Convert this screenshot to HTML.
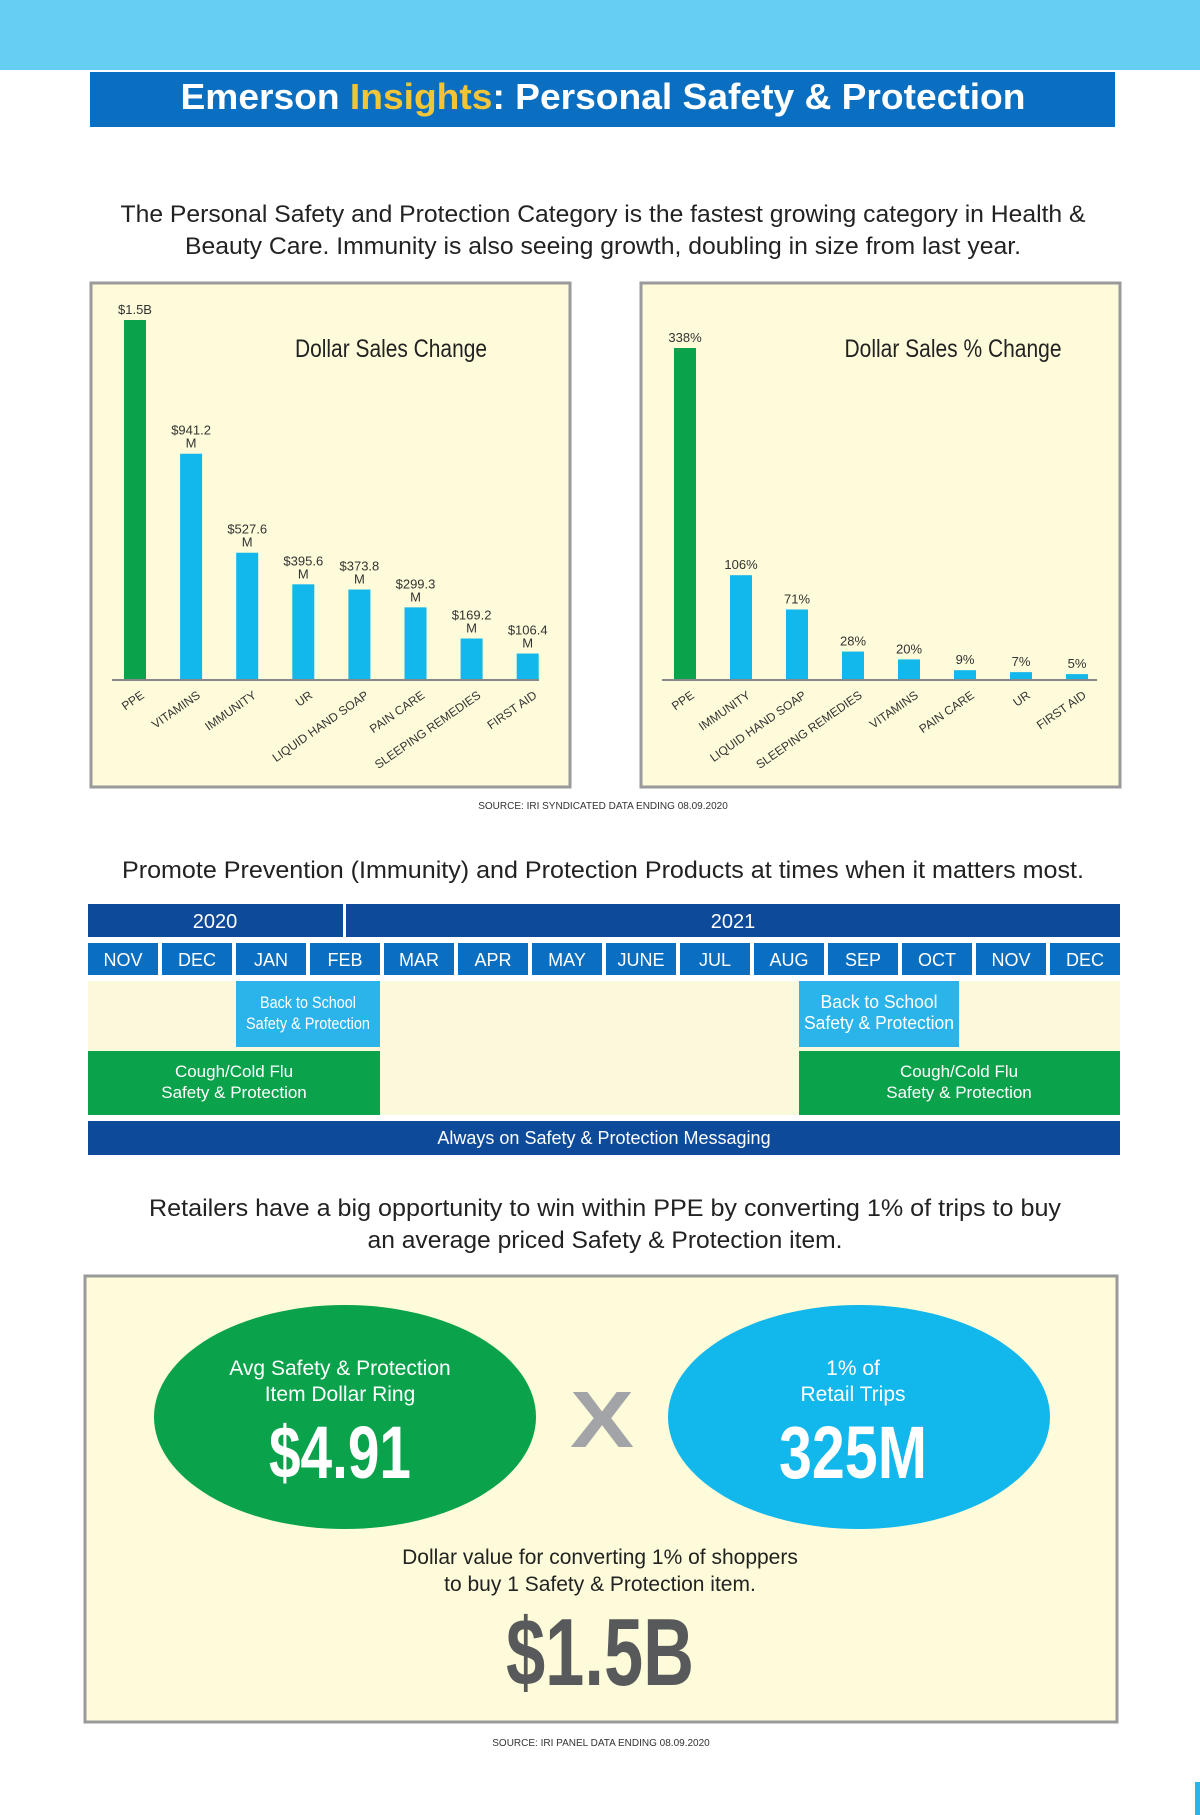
<!DOCTYPE html>
<html><head><meta charset="utf-8">
<style>
html,body{margin:0;padding:0;background:#fff;}
svg{display:block;}
text{font-family:"Liberation Sans",sans-serif;}
.n{font-family:"Liberation Sans Narrow","Liberation Sans",sans-serif;}
</style></head>
<body>
<svg id="page" width="1200" height="1815" viewBox="0 0 1200 1815" xmlns="http://www.w3.org/2000/svg">
  <rect x="0" y="0" width="1200" height="70" fill="#66cdf3"/>
  <g>
    <rect x="90" y="72" width="1025" height="55" fill="#0b6fc1"/>
    <text x="603" y="109" text-anchor="middle" font-size="36" font-weight="bold" fill="#fff" textLength="845" lengthAdjust="spacingAndGlyphs">Emerson <tspan fill="#f3c536">Insights</tspan>:  Personal Safety &amp; Protection</text>
  </g>
  <g font-size="24" fill="#222" text-anchor="middle">
    <text x="603" y="222" textLength="965" lengthAdjust="spacingAndGlyphs">The Personal Safety and Protection Category is the fastest growing category in Health &amp;</text>
    <text x="603" y="254" textLength="836" lengthAdjust="spacingAndGlyphs">Beauty Care. Immunity is also seeing growth, doubling in size from last year.</text>
  </g>

  <rect x="91" y="283" width="479" height="504" fill="#fdfbd9" stroke="#9a9a9a" stroke-width="3"/>
  <rect x="641" y="283" width="479" height="504" fill="#fdfbd9" stroke="#9a9a9a" stroke-width="3"/>
  <text class="n" x="391" y="357" text-anchor="middle" font-size="25" fill="#222" textLength="192" lengthAdjust="spacingAndGlyphs">Dollar Sales Change</text>
  <text class="n" x="953" y="357" text-anchor="middle" font-size="25" fill="#222" textLength="217" lengthAdjust="spacingAndGlyphs">Dollar Sales % Change</text>
  <g id="chart1"></g>
  <g id="chart2"></g>
  <text class="n" x="603" y="809" text-anchor="middle" font-size="10" fill="#333">SOURCE:  IRI SYNDICATED DATA ENDING 08.09.2020</text>

  <text x="603" y="878" text-anchor="middle" font-size="24" fill="#222" textLength="962" lengthAdjust="spacingAndGlyphs">Promote Prevention (Immunity) and Protection Products at times when it matters most.</text>
  <g id="timeline">
    <rect x="88" y="904" width="255" height="33" fill="#0d4a9a"/>
    <text class="n" x="215" y="928" text-anchor="middle" font-size="20" fill="#fff">2020</text>
    <rect x="346" y="904" width="774" height="33" fill="#0d4a9a"/>
    <text class="n" x="733" y="928" text-anchor="middle" font-size="20" fill="#fff">2021</text>
    <rect x="88" y="981" width="1032" height="134" fill="#fcf8dc"/>
    <g>
      <rect x="236" y="981" width="144" height="66" fill="#2bb4ea"/>
      <text class="n" x="308" y="1008" text-anchor="middle" font-size="17" fill="#fff" textLength="96" lengthAdjust="spacingAndGlyphs">Back to School</text>
      <text class="n" x="308" y="1029" text-anchor="middle" font-size="17" fill="#fff" textLength="124" lengthAdjust="spacingAndGlyphs">Safety &amp; Protection</text>
    </g>
    <g>
      <rect x="799" y="981" width="160" height="66" fill="#2bb4ea"/>
      <text class="n" x="879" y="1008" text-anchor="middle" font-size="18" fill="#fff" textLength="117" lengthAdjust="spacingAndGlyphs">Back to School</text>
      <text class="n" x="879" y="1029" text-anchor="middle" font-size="18" fill="#fff" textLength="150" lengthAdjust="spacingAndGlyphs">Safety &amp; Protection</text>
    </g>
    <g>
      <rect x="88" y="1051" width="292" height="64" fill="#0aa24b"/>
      <text x="234" y="1077" text-anchor="middle" font-size="17" fill="#fff">Cough/Cold Flu</text>
      <text x="234" y="1098" text-anchor="middle" font-size="17" fill="#fff">Safety &amp; Protection</text>
    </g>
    <g>
      <rect x="799" y="1051" width="321" height="64" fill="#0aa24b"/>
      <text x="959" y="1077" text-anchor="middle" font-size="17" fill="#fff">Cough/Cold Flu</text>
      <text x="959" y="1098" text-anchor="middle" font-size="17" fill="#fff">Safety &amp; Protection</text>
    </g>
    <g>
      <rect x="88" y="1121" width="1032" height="34" fill="#0d4a9a"/>
      <text x="604" y="1144" text-anchor="middle" font-size="18" fill="#fff">Always on Safety &amp; Protection Messaging</text>
    </g>
  </g>

  <g font-size="24" fill="#222" text-anchor="middle">
    <text x="605" y="1216" textLength="912" lengthAdjust="spacingAndGlyphs">Retailers have a big opportunity to win within PPE by converting 1% of trips to buy</text>
    <text x="605" y="1248" textLength="475" lengthAdjust="spacingAndGlyphs">an average priced Safety &amp; Protection item.</text>
  </g>
  <rect x="85" y="1276" width="1032" height="446" fill="#fdfbd9" stroke="#9a9a9a" stroke-width="3"/>
  <g>
    <ellipse cx="345" cy="1417" rx="191" ry="112" fill="#0aa24b"/>
    <text x="340" y="1375" text-anchor="middle" font-size="21" fill="#fff">Avg Safety &amp; Protection</text>
    <text x="340" y="1401" text-anchor="middle" font-size="21" fill="#fff">Item Dollar Ring</text>
    <text class="n" x="340" y="1478" text-anchor="middle" font-size="74" font-weight="bold" fill="#fff" textLength="142" lengthAdjust="spacingAndGlyphs">$4.91</text>
  </g>
  <text x="602" y="1447" text-anchor="middle" font-size="80" font-weight="bold" fill="#a3a4a8" textLength="64" lengthAdjust="spacingAndGlyphs">X</text>
  <g>
    <ellipse cx="859" cy="1417" rx="191" ry="112" fill="#12b7ec"/>
    <text x="853" y="1375" text-anchor="middle" font-size="21" fill="#fff">1% of</text>
    <text x="853" y="1401" text-anchor="middle" font-size="21" fill="#fff">Retail Trips</text>
    <text class="n" x="853" y="1478" text-anchor="middle" font-size="74" font-weight="bold" fill="#fff" textLength="148" lengthAdjust="spacingAndGlyphs">325M</text>
  </g>
  <g font-size="21" fill="#222" text-anchor="middle">
    <text x="600" y="1564">Dollar value for converting 1% of shoppers</text>
    <text x="600" y="1591">to buy 1 Safety &amp; Protection item.</text>
  </g>
  <text class="n" x="600" y="1685" text-anchor="middle" font-size="96" font-weight="bold" fill="#58595b" textLength="188" lengthAdjust="spacingAndGlyphs">$1.5B</text>
  <text class="n" x="601" y="1746" text-anchor="middle" font-size="10" fill="#333">SOURCE:  IRI PANEL DATA ENDING 08.09.2020</text>
  <rect x="1195" y="1782" width="5" height="33" fill="#2bb4ea"/>
</svg>
<script>
const NS='http://www.w3.org/2000/svg';
const dollarCats=['PPE','VITAMINS','IMMUNITY','UR','LIQUID HAND SOAP','PAIN CARE','SLEEPING REMEDIES','FIRST AID'];
const dollarVals=[1500,941.2,527.6,395.6,373.8,299.3,169.2,106.4];
const dollarLabels=['$1.5B','$941.2|M','$527.6|M','$395.6|M','$373.8|M','$299.3|M','$169.2|M','$106.4|M'];
const pctCats=['PPE','IMMUNITY','LIQUID HAND SOAP','SLEEPING REMEDIES','VITAMINS','PAIN CARE','UR','FIRST AID'];
const pctVals=[338,106,71,28,20,9,7,5];
const pctLabels=['338%','106%','71%','28%','20%','9%','7%','5%'];
const monthNames=['NOV','DEC','JAN','FEB','MAR','APR','MAY','JUNE','JUL','AUG','SEP','OCT','NOV','DEC'];

function mk(tag,attrs,parent){const e=document.createElementNS(NS,tag);for(const k in attrs)e.setAttribute(k,attrs[k]);parent.appendChild(e);return e;}

function drawChart(g,cats,vals,labels,cfg){
  const base=679;
  const y=v=>base-v*cfg.pxPer;
  const x=i=>cfg.x0+i*cfg.step;
  const ax=mk('line',{x1:cfg.axL,x2:cfg.axR,y1:base+1,y2:base+1,stroke:'#888','stroke-width':2},g);
  
  
  vals.forEach((v,i)=>{
    const r=mk('rect',{x:x(i)-11,y:y(v),width:22,height:base-y(v),fill:i===0?'#0aa24b':'#12b7ec'},g);
    
    
    const parts=labels[i].split('|');
    const t=mk('text',{x:x(i),y:y(v)-6-(parts.length-1)*13,'text-anchor':'middle','font-size':13,fill:'#333','class':'n'},g);
    
    
    parts.forEach((p,k)=>{const ts=mk('tspan',{x:x(i),dy:k?13:0},t);ts.textContent=p;});
    const c=mk('text',{x:x(i)+10,y:base+18,'text-anchor':'end','font-size':12,fill:'#333','class':'n',transform:'rotate(-35 '+(x(i)+10)+' '+(base+18)+')'},g);
    
    
    c.textContent=cats[i];
  });
}
drawChart(document.getElementById('chart1'),dollarCats,dollarVals,dollarLabels,{x0:135,step:56.1,pxPer:359/1500,axL:112,axR:539});
drawChart(document.getElementById('chart2'),pctCats,pctVals,pctLabels,{x0:685,step:56,pxPer:331/338,axL:662,axR:1097});

const tl=document.getElementById('timeline');
const cw=(1032-13*4)/14;
monthNames.forEach((m,i)=>{
  const x=88+i*(cw+4);
  const r=mk('rect',{x:x,y:943,width:cw,height:32,fill:'#0b6fc1'},tl);
  
  
  const t=mk('text',{x:x+cw/2,y:966,'text-anchor':'middle','font-size':18,fill:'#fff'},tl);
  
  
  t.textContent=m;
});
</script>
</body></html>
